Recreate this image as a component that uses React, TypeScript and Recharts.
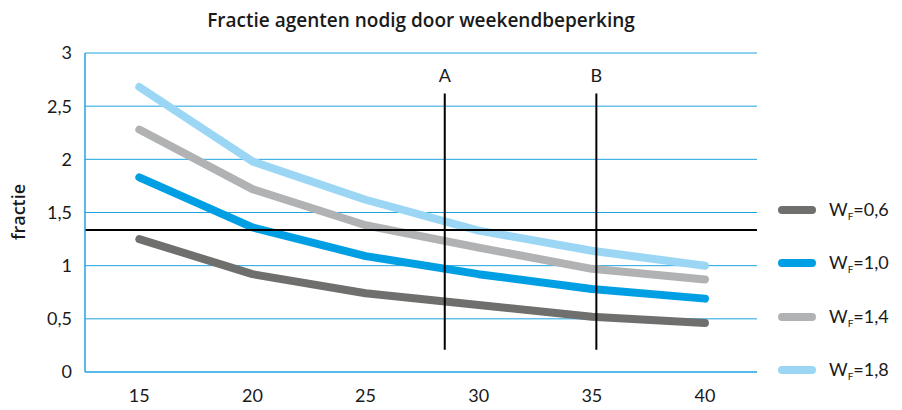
import React from "react";
import {
  LineChart,
  Line,
  XAxis,
  YAxis,
  CartesianGrid,
  ReferenceLine,
} from "recharts";

const X_VALUES = [15, 20, 25, 30, 35, 40];
const WF06 = [1.25, 0.92, 0.74, 0.63, 0.52, 0.46];
const WF10 = [1.83, 1.36, 1.09, 0.92, 0.78, 0.69];
const WF14 = [2.28, 1.72, 1.38, 1.17, 0.97, 0.87];
const WF18 = [2.68, 1.98, 1.62, 1.33, 1.14, 1.0];
const Y_TICKS = [0, 0.5, 1, 1.5, 2, 2.5, 3];
const X_TICKS = [15, 20, 25, 30, 35, 40];
const H_LINE = 1.335;
const MARKERS = [
  { label: "A", x: 28.5 },
  { label: "B", x: 35.2 },
];

const SERIES = [
  { key: "wf06", value: "0,6", color: "#6f6f6e", data: WF06 },
  { key: "wf10", value: "1,0", color: "#009fe3", data: WF10 },
  { key: "wf14", value: "1,4", color: "#b1b2b3", data: WF14 },
  { key: "wf18", value: "1,8", color: "#9bd7f5", data: WF18 },
];

const FONT = "Lato, 'Open Sans', sans-serif";
const TITLE_FONT = "'Open Sans', Lato, sans-serif";
const GRID = "#1fa3e0";

const rows = X_VALUES.map((x, i) => {
  const row: Record<string, number> = { x };
  SERIES.forEach((s) => {
    row[s.key] = s.data[i];
  });
  return row;
});

const fmt = (v: number) => String(v).replace(".", ",");

export default function App() {
  return (
    <div
      style={{
        position: "fixed",
        left: 0,
        top: 0,
        width: 902,
        height: 410,
        background: "#fff",
        fontFamily: FONT,
      }}
    >
      <LineChart
        width={902}
        height={410}
        data={rows}
        margin={{ top: 53, right: 145, bottom: 8, left: 10 }}
      >
        <text
          x={421}
          y={27}
          textAnchor="middle"
          fontFamily={TITLE_FONT}
          fontWeight={600}
          fontSize={19}
          fill="#1a1a1a"
        >
          Fractie agenten nodig door weekendbeperking
        </text>
        <text
          transform="translate(25,212) rotate(-90)"
          textAnchor="middle"
          fontFamily={TITLE_FONT}
          fontWeight={600}
          fontSize={18}
          fill="#1a1a1a"
        >
          fractie
        </text>
        <CartesianGrid
          horizontal
          vertical={false}
          stroke={GRID}
          strokeWidth={1}
        />
        <XAxis
          dataKey="x"
          type="number"
          domain={[12.6, 42.3]}
          ticks={X_TICKS}
          axisLine={{ stroke: GRID }}
          tickLine={false}
          tickSize={0}
          tickMargin={17}
          tick={{ fill: "#1a1a1a", fontSize: 18, fontFamily: FONT }}
        />
        <YAxis
          width={75}
          domain={[0, 3]}
          ticks={Y_TICKS}
          tickFormatter={fmt}
          axisLine={{ stroke: GRID, strokeWidth: 1.5 }}
          tickLine={false}
          tickSize={0}
          tickMargin={13}
          tick={{ fill: "#1a1a1a", fontSize: 18, fontFamily: FONT }}
        />
        {SERIES.map((s) => (
          <Line
            key={s.key}
            dataKey={s.key}
            type="linear"
            stroke={s.color}
            strokeWidth={8}
            strokeLinecap="round"
            strokeLinejoin="round"
            dot={false}
            activeDot={false}
            isAnimationActive={false}
          />
        ))}
        <ReferenceLine y={H_LINE} stroke="#000" strokeWidth={2} />
        {MARKERS.map((m) => (
          <ReferenceLine
            key={m.label}
            segment={[
              { x: m.x, y: 0.21 },
              { x: m.x, y: 2.62 },
            ]}
            stroke="#000"
            strokeWidth={2}
            label={{
              value: m.label,
              position: "top",
              offset: 11,
              fill: "#1a1a1a",
              fontSize: 18,
              fontFamily: FONT,
            }}
          />
        ))}
      </LineChart>
      <div style={{ position: "absolute", left: 778, top: 183 }}>
        {SERIES.map((s) => (
          <div
            key={s.key}
            style={{
              display: "flex",
              alignItems: "center",
              height: 53.5,
              color: "#1a1a1a",
              fontSize: 18,
            }}
          >
            <span
              style={{
                display: "inline-block",
                width: 38,
                height: 8,
                borderRadius: 4,
                background: s.color,
                marginRight: 13,
              }}
            />
            <span>
              W<sub style={{ fontSize: 10, verticalAlign: "-4px" }}>F</sub>=
              {s.value}
            </span>
          </div>
        ))}
      </div>
    </div>
  );
}
